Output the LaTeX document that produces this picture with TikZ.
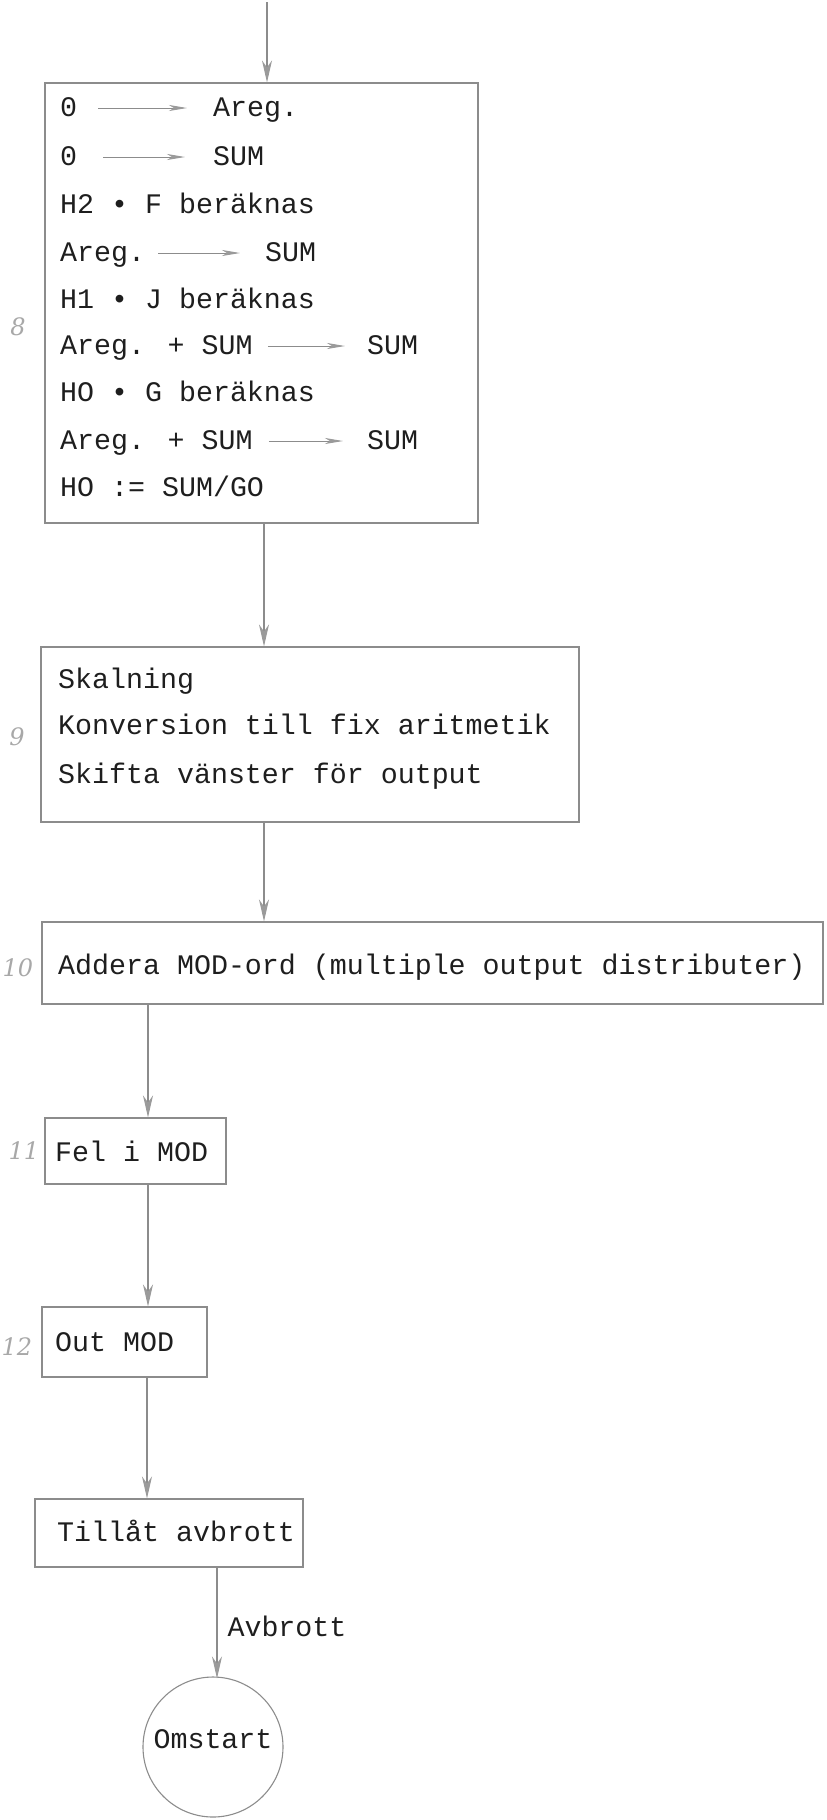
\documentclass[tikz,border=0pt]{standalone}
\usepackage{fontspec}
\newfontfamily\typew{Liberation Mono}
\newfontfamily\hand{DejaVu Serif}
\usetikzlibrary{arrows.meta}
\definecolor{linegray}{HTML}{8C8C8C}
\definecolor{tipgray}{HTML}{9A9A9A}
\definecolor{inkcol}{HTML}{1E1E1E}
\definecolor{handgray}{HTML}{A8A8A8}
\tikzset{
  box/.style={draw=linegray, line width=1.1pt, inner sep=0pt},
  txt/.style={font=\typew\fontsize{28.3}{34}\selectfont, text=inkcol, inner sep=0pt, text height=16pt, text depth=0pt, anchor=west},
  flow/.style={draw=linegray, line width=1.1pt, -{Stealth[length=22pt, width=10pt, inset=7pt, fill=tipgray, color=tipgray]}},
  tarrow/.style={draw=linegray, line width=0.9pt, -{Stealth[length=18pt, width=6pt, inset=5pt, fill=tipgray, color=tipgray]}},
  numlabel/.style={font=\hand\itshape\fontsize{24}{28}\selectfont, text=handgray, inner sep=0pt},
}
\begin{document}
\begin{tikzpicture}[x=1pt, y=-1pt]
\useasboundingbox (0,0) rectangle (827,1820);

% boxes
\node[box, minimum width=433pt, minimum height=440pt] (b8) at (261.5,303) {};
\node[box, minimum width=538pt, minimum height=175pt] (b9) at (310,734.5) {};
\node[box, minimum width=781pt, minimum height=82pt] (b10) at (432.5,963) {};
\node[box, minimum width=181pt, minimum height=66pt] (b11) at (135.5,1151) {};
\node[box, minimum width=165pt, minimum height=70pt] (b12) at (124.5,1342) {};
\node[box, minimum width=268pt, minimum height=68pt] (b13) at (169,1533) {};
\node[box, circle, minimum size=140pt, txt, anchor=center, text depth=14pt] (omst) at (213,1747) {Omstart};

% box 8 text
\node[txt] (l1a) at (60,108) {0};
\node[txt] (l1b) at (213,108) {Areg.};
\node[txt] (l2a) at (60,157) {0};
\node[txt] (l2b) at (213,157) {SUM};
\node[txt] (l3) at (60,205) {H2 • F beräknas};
\node[txt] (l4a) at (60,253) {Areg.};
\node[txt] (l4b) at (265,253) {SUM};
\node[txt] (l5) at (60,300) {H1 • J beräknas};
\node[txt] (l6a) at (60,346) {Areg. + SUM};
\node[txt] (l6b) at (367,346) {SUM};
\node[txt] (l7) at (60,393) {HO • G beräknas};
\node[txt] (l8a) at (60,441) {Areg. + SUM};
\node[txt] (l8b) at (367,441) {SUM};
\node[txt] (l9) at (60,488) {HO := SUM/GO};

\draw[tarrow, shorten <=21pt, shorten >=26pt] (l1a) -- (l1b);
\draw[tarrow, shorten <=26pt, shorten >=28pt] (l2a) -- (l2b);
\draw[tarrow, shorten <=13pt, shorten >=25pt] (l4a) -- (l4b);
\draw[tarrow, shorten <=15pt, shorten >=22pt] (l6a) -- (l6b);
\draw[tarrow, shorten <=16pt, shorten >=24pt] (l8a) -- (l8b);

% box 9 text
\node[txt] (t9a) at (58,680) {Skalning};
\node[txt] (t9b) at (58,726) {Konversion till fix aritmetik};
\node[txt] (t9c) at (58,775) {Skifta vänster för output};
% other texts
\node[txt] (t10) at (58,966) {Addera MOD-ord (multiple output distributer)};
\node[txt] (t11) at (55,1153) {Fel i MOD};
\node[txt] (t12) at (55,1343) {Out MOD};
\node[txt] (t13) at (57,1533) {Tillåt avbrott};

% handwritten numbers
\node[numlabel] (n8) at (18,327) {8};
\node[numlabel] (n9) at (17,737) {9};
\node[numlabel] (n10) at (18,968) {10};
\node[numlabel] (n11) at (24,1151) {11};
\node[numlabel] (n12) at (17,1347) {12};

% connectors
\coordinate (start) at (267,2);
\coordinate (xa) at (264,0);
\coordinate (xb) at (148,0);
\coordinate (xc) at (147,0);
\coordinate (xd) at (217,0);
\draw[flow] (start) -- (b8.north -| start);
\draw[flow] (b8.south -| xa) -- (b9.north -| xa);
\draw[flow] (b9.south -| xa) -- (b10.north -| xa);
\draw[flow] (b10.south -| xb) -- (b11.north -| xb);
\draw[flow] (b11.south -| xb) -- (b12.north -| xb);
\draw[flow] (b12.south -| xc) -- (b13.north -| xc);
\draw[flow] (b13.south -| xd) -- node[txt, right=10pt, pos=0.55] (av) {Avbrott} ([yshift=-2pt]omst.north -| xd);
\end{tikzpicture}
\end{document}
